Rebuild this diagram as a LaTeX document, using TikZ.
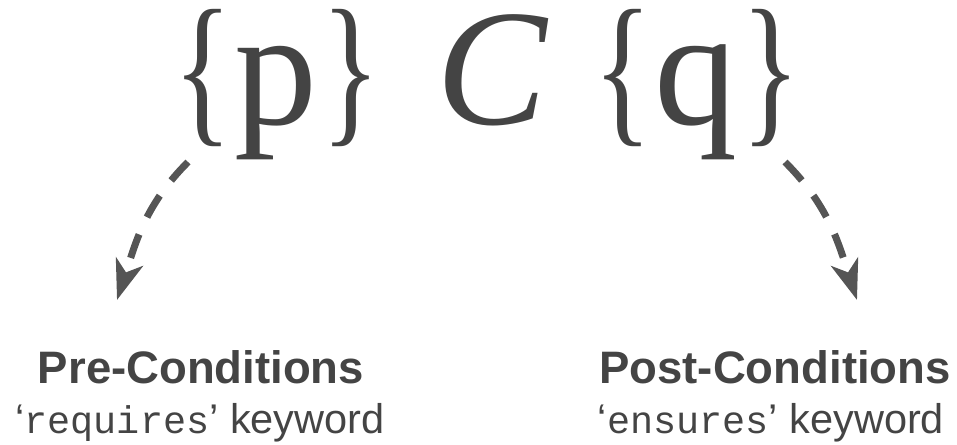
\documentclass[tikz,border=0pt]{standalone}
\usepackage{fontspec}
\usepackage{graphicx}
\setmainfont{Liberation Serif}
\setsansfont{Liberation Sans}
\setmonofont{Liberation Mono}
\usetikzlibrary{arrows.meta}
\definecolor{txt}{HTML}{444444}
\definecolor{arr}{HTML}{555555}
\newcommand{\lbr}{\scalebox{0.74}[1]{\{}\kern2pt}
\newcommand{\rbr}{\kern4pt\scalebox{0.74}[1]{\}}}
\tikzset{
  formula/.style={inner sep=0pt, anchor=base, text=txt, font=\fontsize{166}{166}\selectfont},
  title/.style={inner sep=0pt, anchor=base, text=txt, font=\sffamily\bfseries\fontsize{45.5}{45.5}\selectfont},
  sub/.style={inner sep=0pt, anchor=base, text=txt, font=\sffamily\fontsize{41.5}{41.5}\selectfont},
  link/.style={draw=arr, line width=7pt, dash pattern=on 25pt off 19pt,
    -{Stealth[length=40pt,width=28pt,inset=11pt,fill=arr]}}
}
\begin{document}
\begin{tikzpicture}[x=1pt,y=-1pt]
\useasboundingbox (0,0) rectangle (957,444);
\node[formula] (p) at (276.5,124) {\lbr p\rbr};
\node[formula, inner xsep=8pt] (C) at (493,124) {\kern6pt\textit{C}\kern6pt};
\node[formula] (q) at (696.5,124) {\lbr q\rbr};
\node[title] (pre) at (201,383) {Pre-Conditions};
\node[sub] (req) at (200,433) {‘{\ttfamily\fontsize{38.5}{38.5}\selectfont requires}’ keyword};
\node[title] (post) at (775,383) {Post-Conditions};
\node[sub] (ens) at (771,433) {‘{\ttfamily\fontsize{38.5}{38.5}\selectfont ensures}’ keyword};
\coordinate (ps) at (188,162);
\coordinate (pe) at (117,300);
\coordinate (qs) at (785,162);
\coordinate (qe) at (857,300);
\draw[link] (ps) to[out=225,in=72] (pe);
\draw[link] (qs) to[out=-45,in=108] (qe);
\end{tikzpicture}
\end{document}
